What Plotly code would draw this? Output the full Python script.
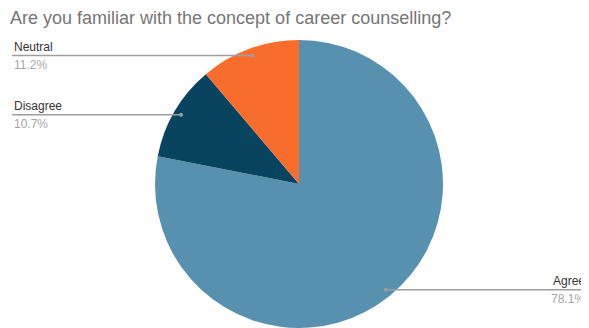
import math
import plotly.graph_objects as go

title = "Are you familiar with the concept of career counselling?"
labels = ["Agree", "Disagree", "Neutral"]
values = [78.1, 10.7, 11.2]
colors = ["#5891b0", "#08435f", "#f96d2c"]
label_side = ["right", "left", "left"]

OFF = 8  # page body margin
W, H = 589 - OFF, 328 - OFF
CX, CY, R = 299 - OFF, 184 - OFF, 144  # pie centre / radius in figure pixels

fig = go.Figure(go.Pie(
    labels=labels, values=values, sort=False, direction="clockwise", rotation=0,
    marker=dict(colors=colors, line=dict(width=0)),
    textinfo="none", hoverinfo="skip", showlegend=False,
    domain=dict(x=[(CX - R) / W, (CX + R) / W], y=[max(0, (H - CY - R) / H), (H - CY + R) / H]),
))

annotations = []
shapes = []
total = sum(values)
cum = 0.0
for lab, val, side in zip(labels, values, label_side):
    mid = (cum + val / 2) / total * 2 * math.pi
    cum += val
    px = CX + 0.95 * R * math.sin(mid)
    py = CY - 0.95 * R * math.cos(mid)
    xp, yp = px / W, 1 - py / H
    if side == "left":
        xend, anchor = (12 - OFF) / W, "left"
    else:
        xend, anchor = (587 - OFF) / W, "right"
    shapes.append(dict(type="line", xref="paper", yref="paper", x0=xp, x1=xend, y0=yp, y1=yp,
                       line=dict(color="#9e9e9e", width=1.5)))
    shapes.append(dict(type="circle", xref="paper", yref="paper", xsizemode="pixel", ysizemode="pixel",
                       xanchor=xp, yanchor=yp, x0=-2, x1=2, y0=-2, y1=2,
                       fillcolor="#9e9e9e", line=dict(width=0)))
    annotations.append(dict(xref="paper", yref="paper", x=xend, y=yp, text=lab, showarrow=False,
                            xanchor=anchor, yanchor="bottom", yshift=0,
                            font=dict(family="Liberation Sans, Arial", size=12, color="#333333")))
    annotations.append(dict(xref="paper", yref="paper", x=xend, y=yp, text=f"{val:.1f}%", showarrow=False,
                            xanchor=anchor, yanchor="top", yshift=0,
                            font=dict(family="Liberation Sans, Arial", size=12, color="#a6a6a6")))

fig.update_layout(
    width=W, height=H, margin=dict(l=0, r=0, t=0, b=0),
    paper_bgcolor="white", plot_bgcolor="white",
    title=dict(text=title, x=(10 - OFF) / W, xanchor="left", y=1 - (18 - OFF) / H, yanchor="middle",
               font=dict(family="Liberation Sans, Arial", size=18, color="#757575")),
    shapes=shapes, annotations=annotations,
)

fig.write_html("out.html")
